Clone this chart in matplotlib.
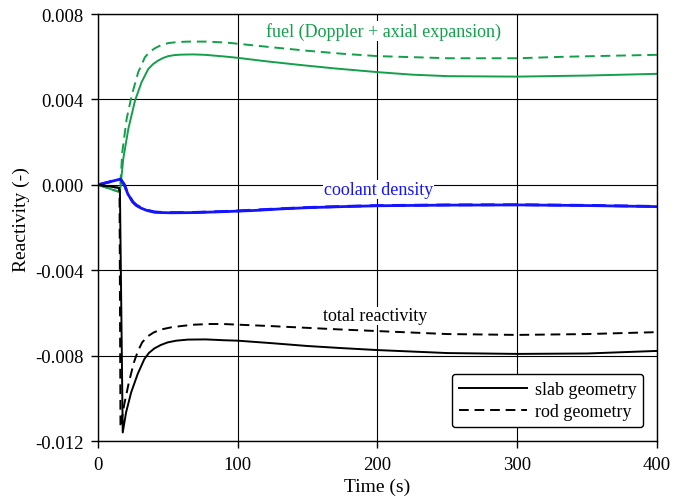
import numpy as np
import matplotlib.pyplot as plt
from matplotlib.ticker import FormatStrFormatter

plt.rcParams['font.family'] = ['Liberation Serif', 'DejaVu Serif']
plt.rcParams['axes.unicode_minus'] = False

# fuel reactivity (Doppler + axial expansion)
t_fuel_slab = [0, 15.7, 18.1, 21.7, 26.5, 31.2, 36, 39.5, 43, 46.5, 50.3, 55, 59.8, 68, 76.6, 90.9, 100,
               120, 144, 170, 200, 225, 251, 300, 350, 400]
fuel_slab = [0, -0.00034, 0.00122, 0.00262, 0.00395, 0.00481, 0.00543, 0.00566, 0.00582, 0.00594, 0.00603,
             0.00608, 0.0061, 0.00611, 0.00609, 0.00601, 0.00595, 0.00579, 0.00562, 0.00545, 0.00528, 0.00516,
             0.00509, 0.00507, 0.00512, 0.0052]
t_fuel_rod = [0, 15.7, 17.4, 20.5, 24.1, 28.8, 33.6, 37, 40.8, 45, 50.3, 57, 64.6, 77, 90.9, 100, 125, 150,
              175, 200, 251, 300, 334, 370, 400]
fuel_rod = [0, -0.00034, 0.00153, 0.00309, 0.00418, 0.00528, 0.00598, 0.00623, 0.0064, 0.00654, 0.00664,
            0.00669, 0.00671, 0.00671, 0.00667, 0.00661, 0.00644, 0.00628, 0.00614, 0.00603, 0.00593, 0.00593,
            0.006, 0.00605, 0.00609]

# coolant density reactivity
t_cool = [0, 16.1, 18.9, 21.3, 24.9, 27.5, 30.8, 35, 40.4, 46, 52.3, 69, 92.6, 112, 130, 150, 175, 200, 250,
          300, 350, 400]
cool_slab = [0, 0.00027, 0.0, -0.00042, -0.00081, -0.00097, -0.00109, -0.0012, -0.00128, -0.0013, -0.00131,
             -0.0013, -0.00125, -0.0012, -0.00113, -0.00107, -0.00102, -0.00098, -0.00095, -0.00094, -0.00097,
             -0.00102]
cool_rod = [0, 0.00027, 0.0, -0.0004, -0.00079, -0.00095, -0.00107, -0.00118, -0.00127, -0.00129, -0.0013,
            -0.00129, -0.00124, -0.00118, -0.00112, -0.00106, -0.00101, -0.00097, -0.00094, -0.00093, -0.00096,
            -0.00101]

# total reactivity
t_tot_slab = [0, 15.0, 15.7, 17.7, 20.1, 23.7, 28.4, 33.2, 36.5, 40.4, 45, 49.9, 56, 64.2, 77, 90.4, 100,
              125, 150, 175, 200, 250, 300, 350, 400]
tot_slab = [0, -0.00014, -0.0003, -0.0116, -0.01066, -0.00973, -0.00886, -0.00816, -0.00787, -0.00766, -0.0075,
            -0.00738, -0.0073, -0.00725, -0.00724, -0.00728, -0.0073, -0.00742, -0.00755, -0.00765, -0.00774,
            -0.00788, -0.00792, -0.0079, -0.00778]
t_tot_rod = [0, 15.0, 15.4, 16.1, 18.6, 22.1, 25.7, 28.5, 31.6, 35.5, 40, 45.5, 52, 60, 69, 80, 90, 100,
             125, 150, 175, 200, 250, 300, 350, 400]
tot_rod = [0, -0.00014, -0.0003, -0.01136, -0.01035, -0.00925, -0.00832, -0.0078, -0.00738, -0.0071, -0.00691,
           -0.00677, -0.00668, -0.00661, -0.00655, -0.00652, -0.00652, -0.00655, -0.00662, -0.0067, -0.00678,
           -0.00685, -0.00699, -0.00703, -0.00699, -0.0069]

green = '#12a04a'
blue = '#1414ff'

fig = plt.figure(figsize=(6.73, 5.02), dpi=100)
ax = fig.add_axes([0.1456, 0.1195, 0.8306, 0.8505])

ax.plot(t_fuel_slab, fuel_slab, color=green, lw=1.4)
ax.plot(t_fuel_rod, fuel_rod, color=green, lw=1.4, ls=(0, (5, 3)))
ax.plot(t_cool, cool_slab, color=blue, lw=2.0)
ax.plot(t_cool, cool_rod, color=blue, lw=2.0, ls=(0, (5, 3)))
ax.plot(t_tot_slab, tot_slab, color='black', lw=1.4, label='slab geometry')
ax.plot(t_tot_rod, tot_rod, color='black', lw=1.4, ls=(0, (5, 3)), label='rod geometry')

ax.set_xlim(0, 400)
ax.set_ylim(-0.012, 0.008)
ax.set_xticks([0, 100, 200, 300, 400])
ax.set_yticks([-0.012, -0.008, -0.004, 0.0, 0.004, 0.008])
ax.yaxis.set_major_formatter(FormatStrFormatter('%.3f'))
ax.tick_params(direction='out', length=5, width=1, labelsize=13.5, colors='black')
ax.tick_params(axis='y', pad=5.5)
ax.tick_params(axis='x', pad=6)
ax.grid(True, color='black', lw=0.8)
ax.set_axisbelow(True)
for s in ax.spines.values():
    s.set_linewidth(1.0)

ax.set_xlabel('Time (s)', fontsize=14, labelpad=3)
ax.set_ylabel('Reactivity (-)', fontsize=14)
ax.yaxis.set_label_coords(-0.122, 0.52)

box = dict(boxstyle='square,pad=0.05', fc='white', ec='none')
ax.text(204, 0.00722, 'fuel (Doppler + axial expansion)', color=green, fontsize=13,
        ha='center', va='center', bbox=box)
ax.text(201, -0.00022, 'coolant density', color=blue, fontsize=13,
        ha='center', va='center', bbox=box)
ax.text(198, -0.00614, 'total reactivity', color='black', fontsize=13,
        ha='center', va='center', bbox=box)

leg = ax.legend(loc='lower right', fontsize=13, handlelength=3.8, handletextpad=0.4,
                borderaxespad=0.75, fancybox=True, framealpha=1, edgecolor='black',
                labelspacing=0.3)
leg.get_frame().set_linewidth(1.0)

fig.savefig('out.png', dpi=100)
